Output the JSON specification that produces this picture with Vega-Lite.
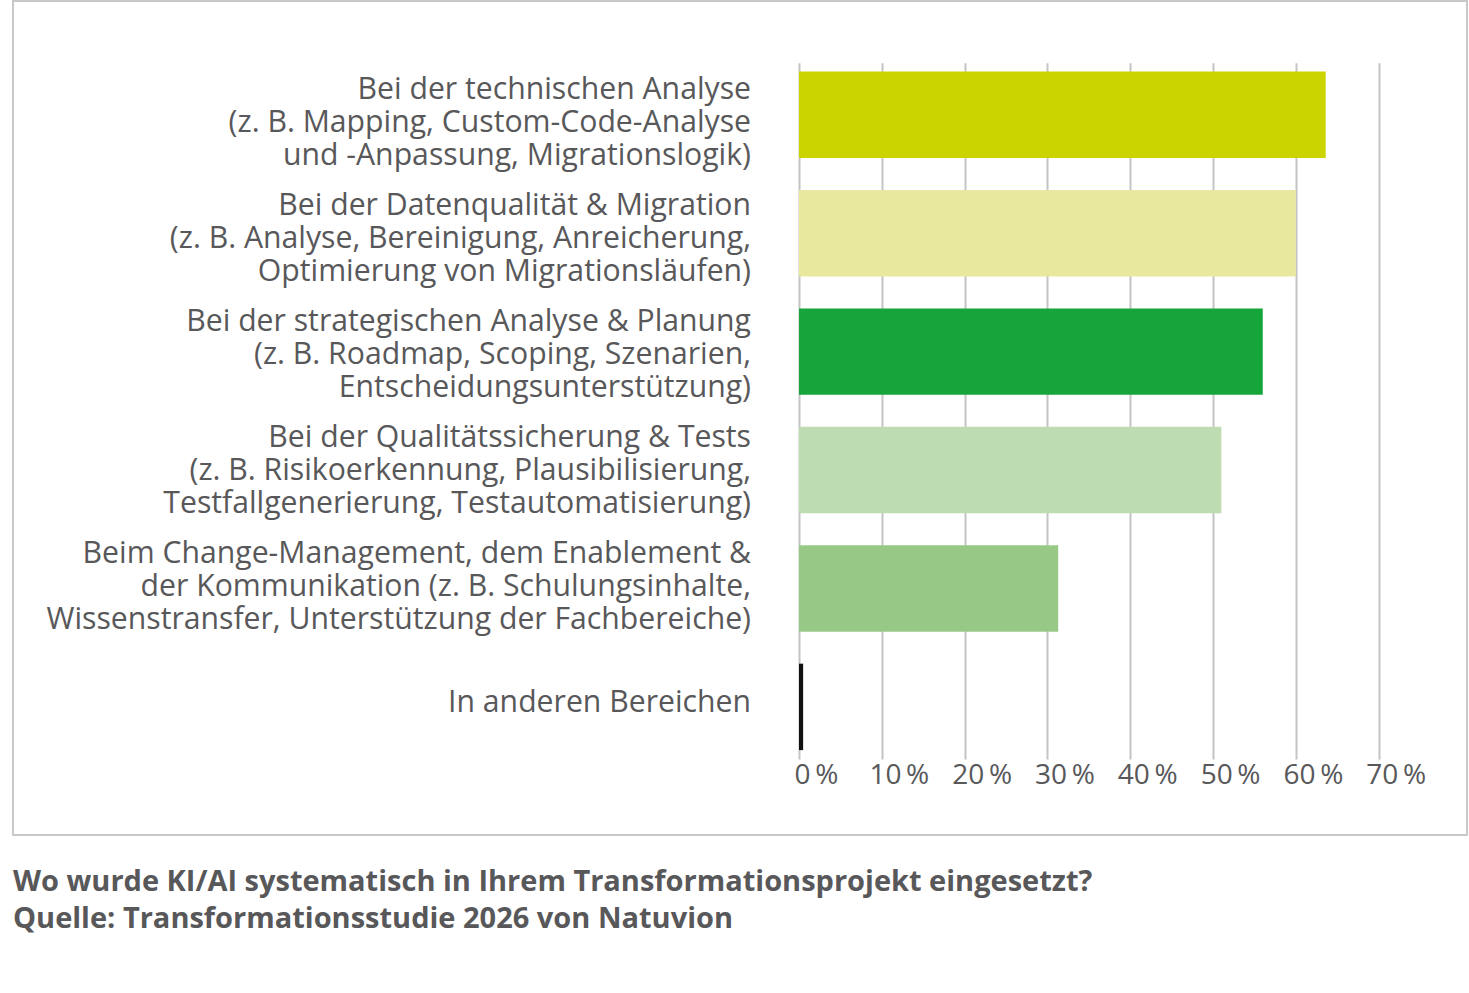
{
  "$schema": "https://vega.github.io/schema/vega-lite/v6.json",
  "width": 1454,
  "height": 834,
  "autosize": {"type": "none"},
  "padding": {"left": 13, "top": 1, "right": 2, "bottom": 158},
  "background": "white",
  "title": {
    "text": ["Wo wurde KI/AI systematisch in Ihrem Transformationsprojekt eingesetzt?", "Quelle: Transformationsstudie 2026 von Natuvion"],
    "orient": "bottom",
    "anchor": "start",
    "frame": "group",
    "offset": 33,
    "font": "Open Sans",
    "fontSize": 29,
    "fontWeight": "bold",
    "color": "#58585a",
    "lineHeight": 37
  },
  "data": {
    "values": [
      {"bereich": "Bei der technischen Analyse|(z. B. Mapping, Custom-Code-Analyse|und -Anpassung, Migrationslogik)", "anteil": 0.636},
      {"bereich": "Bei der Datenqualität & Migration|(z. B. Analyse, Bereinigung, Anreicherung,|Optimierung von Migrationsläufen)", "anteil": 0.600},
      {"bereich": "Bei der strategischen Analyse & Planung|(z. B. Roadmap, Scoping, Szenarien,|Entscheidungsunterstützung)", "anteil": 0.560},
      {"bereich": "Bei der Qualitätssicherung & Tests|(z. B. Risikoerkennung, Plausibilisierung,|Testfallgenerierung, Testautomatisierung)", "anteil": 0.510},
      {"bereich": "Beim Change-Management, dem Enablement &|der Kommunikation (z. B. Schulungsinhalte,|Wissenstransfer, Unterstützung der Fachbereiche)", "anteil": 0.313},
      {"bereich": "In anderen Bereichen", "anteil": 0.005}
    ]
  },
  "mark": {"type": "bar"},
  "encoding": {
    "y": {
      "field": "bereich",
      "type": "nominal",
      "sort": null,
      "scale": {"range": [61.7, 758], "paddingInner": 0.27, "paddingOuter": 0.075},
      "axis": {
        "orient": "left",
        "offset": -786,
        "title": null,
        "domain": false,
        "ticks": false,
        "tickSize": 0,
        "grid": false,
        "labelPadding": 48.5,
        "labelFont": "Open Sans",
        "labelFontSize": 30.2,
        "labelColor": "#58585a",
        "labelLineHeight": 33,
        "labelLimit": 900,
        "labelAlign": "right",
        "labelBaseline": "middle",
        "labelOffset": {
          "condition": [
            {"test": "indexof(datum.value, 'technischen') >= 0", "value": -25},
            {"test": "indexof(datum.value, 'Datenqualit') >= 0", "value": -27},
            {"test": "indexof(datum.value, 'strategischen') >= 0", "value": -30},
            {"test": "indexof(datum.value, 'Tests') >= 0", "value": -32},
            {"test": "indexof(datum.value, 'Change') >= 0", "value": -34}
          ],
          "value": -4
        },
        "labelExpr": "split(datum.label, '|')"
      }
    },
    "x": {
      "field": "anteil",
      "type": "quantitative",
      "scale": {"domain": [0, 0.7], "range": [786, 1365.7], "nice": false},
      "axis": {
        "orient": "top",
        "offset": -758,
        "title": null,
        "domain": false,
        "ticks": false,
        "tickSize": 0,
        "grid": true,
        "gridColor": "#c4c4c4",
        "gridWidth": 2,
        "values": [0, 0.1, 0.2, 0.3, 0.4, 0.5, 0.6, 0.7],
        "labelExpr": "format(datum.value * 100, 'd') + '\u2009%'",
        "labelPadding": -2,
        "labelBaseline": "top",
        "labelOffset": 17,
        "labelFont": "Open Sans",
        "labelFontSize": 28,
        "labelColor": "#58585a",
        "labelFlush": false,
        "labelOverlap": false
      }
    },
    "color": {
      "field": "bereich",
      "type": "nominal",
      "sort": null,
      "scale": {"range": ["#ccd400", "#e8e89f", "#16a53a", "#bedcb2", "#98c886", "#111111"]},
      "legend": null
    }
  },
  "config": {
    "view": {"stroke": "#c8c8c8", "strokeWidth": 2}
  }
}
